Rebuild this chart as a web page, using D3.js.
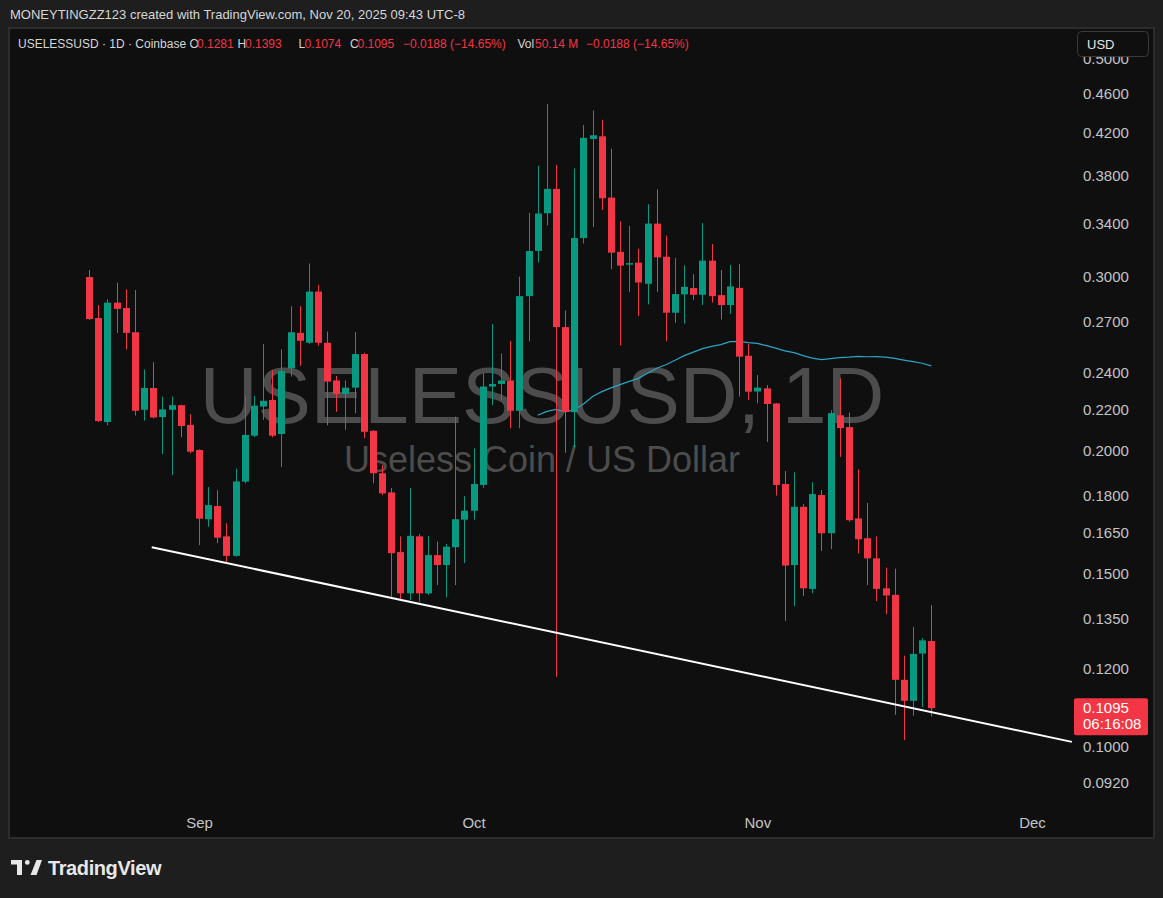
<!DOCTYPE html>
<html><head><meta charset="utf-8">
<script src="https://cdn.jsdelivr.net/npm/d3@7"></script>
<style>
html,body{margin:0;padding:0;background:#1e1e1e;}
svg{display:block;font-family:"Liberation Sans",Arial,sans-serif;}
</style></head><body>
<svg id="c" width="1163" height="898"></svg>
<script>
// ---- data ----
const dates = [
"2025-08-20","2025-08-21","2025-08-22","2025-08-23","2025-08-24","2025-08-25","2025-08-26","2025-08-27","2025-08-28","2025-08-29",
"2025-08-30","2025-08-31","2025-09-01","2025-09-02","2025-09-03","2025-09-04","2025-09-05","2025-09-06","2025-09-07","2025-09-08",
"2025-09-09","2025-09-10","2025-09-11","2025-09-12","2025-09-13","2025-09-14","2025-09-15","2025-09-16","2025-09-17","2025-09-18",
"2025-09-19","2025-09-20","2025-09-21","2025-09-22","2025-09-23","2025-09-24","2025-09-25","2025-09-26","2025-09-27","2025-09-28",
"2025-09-29","2025-09-30","2025-10-01","2025-10-02","2025-10-03","2025-10-04","2025-10-05","2025-10-06","2025-10-07","2025-10-08",
"2025-10-09","2025-10-10","2025-10-11","2025-10-12","2025-10-13","2025-10-14","2025-10-15","2025-10-16","2025-10-17","2025-10-18",
"2025-10-19","2025-10-20","2025-10-21","2025-10-22","2025-10-23","2025-10-24","2025-10-25","2025-10-26","2025-10-27","2025-10-28",
"2025-10-29","2025-10-30","2025-10-31","2025-11-01","2025-11-02","2025-11-03","2025-11-04","2025-11-05","2025-11-06","2025-11-07",
"2025-11-08","2025-11-09","2025-11-10","2025-11-11","2025-11-12","2025-11-13","2025-11-14","2025-11-15","2025-11-16","2025-11-17",
"2025-11-18","2025-11-19","2025-11-20"];
const open = [
.2999,.2725,.2137,.2825,.2790,.2636,.2199,.2314,.2162,.2199,
.2223,.2123,.2002,.1703,.1756,.1636,.1563,.1859,.2070,.2216,
.2250,.2078,.2423,.2632,.2572,.2899,.2572,.2355,.2282,.2316,
.2505,.2094,.1896,.1813,.1577,.1432,.1636,.1432,.1566,.1530,
.1595,.1701,.1737,.1845,.2322,.2336,.2355,.2194,.2868,.3188,
.3481,.3685,.2668,.2187,.3285,.4141,.4167,.3611,.3181,.3090,
.3102,.2952,.3398,.3145,.2759,.2880,.2923,.2877,.3116,.2875,
.2809,.2924,.2495,.2295,.2312,.2232,.1849,.1530,.1753,.1447,
.1802,.1648,.2171,.2112,.1706,.1629,.1554,.1449,.1427,.1170,
.1114,.1244,.1281];
const high = [
.3049,.2809,.2847,.2960,.2914,.2910,.2417,.2458,.2268,.2268,
.2225,.2177,.2005,.1836,.1823,.1687,.1917,.2268,.2272,.2564,
.2413,.2532,.2802,.2802,.3096,.2946,.2641,.2380,.2355,.2637,
.2512,.2096,.1933,.1832,.1636,.1832,.1645,.1638,.1616,.1607,
.2164,.1797,.2009,.2395,.2687,.2509,.2583,.3002,.3485,.3890,
.4492,.3897,.2774,.3866,.4280,.4428,.4331,.4049,.3416,.3380,
.3204,.3555,.3680,.3304,.3136,.3081,.3020,.3402,.3240,.3049,
.3085,.3092,.2565,.2385,.2330,.2235,.1906,.1900,.1764,.1857,
.1823,.2197,.2367,.2185,.1913,.1769,.1636,.1521,.1517,.1238,
.1324,.1290,.1393];
const low = [
.2712,.2137,.2121,.2632,.2532,.2170,.2144,.2155,.1983,.1888,
.2063,.1986,.1603,.1673,.1610,.1534,.1560,.1852,.2063,.2148,
.2062,.1924,.2376,.2437,.2565,.2554,.2121,.2189,.2098,.2181,
.2058,.1852,.1802,.1421,.1410,.1410,.1404,.1427,.1460,.1419,
.1460,.1537,.1701,.1832,.2223,.2250,.2106,.2106,.2580,.3103,
.3384,.1178,.1989,.2014,.3244,.3371,.3508,.3055,.2555,.2895,
.2737,.2813,.2898,.2581,.2695,.2690,.2843,.2809,.2825,.2716,
.2751,.2268,.2250,.2233,.2040,.1800,.1343,.1390,.1423,.1432,
.1581,.1588,.1970,.1693,.1572,.1460,.1406,.1364,.1078,.1016,
.1076,.1098,.1074];
const close = [
.2719,.2142,.2825,.2784,.2632,.2194,.2314,.2160,.2201,.2223,
.2117,.1994,.1705,.1760,.1631,.1563,.1860,.2074,.2220,.2246,
.2070,.2407,.2636,.2584,.2899,.2572,.2349,.2282,.2316,.2505,
.2089,.1896,.1809,.1573,.1432,.1638,.1432,.1566,.1530,.1597,
.1703,.1737,.1849,.2322,.2336,.2355,.2194,.2868,.3187,.3479,
.3685,.2668,.2188,.3285,.4152,.4177,.3605,.3175,.3080,.3098,
.2961,.3398,.3140,.2759,.2882,.2931,.2877,.3116,.2868,.2809,
.2934,.2490,.2294,.2316,.2229,.1845,.1528,.1753,.1449,.1806,
.1648,.2182,.2107,.1699,.1625,.1554,.1447,.1425,.1170,.1114,
.1243,.1283,.1095];
const maPeriod = 50;
const yTicks = [0.5, 0.46, 0.42, 0.38, 0.34, 0.30, 0.27, 0.24, 0.22, 0.20, 0.18, 0.165, 0.15, 0.135, 0.12, 0.10, 0.092];
const monthTicks = ["2025-09-01","2025-10-01","2025-11-01","2025-12-01"];
const trendAnchors = [["2025-08-26T20:00:00Z", 0.1595], ["2025-12-05T08:40:00Z", 0.1012]];
const lastPrice = 0.1095;
const countdown = "06:16:08";
const headerText = "MONEYTINGZZ123 created with TradingView.com, Nov 20, 2025 09:43 UTC-8";
const legendParts = [
  {t:"USELESSUSD · 1D · Coinbase", c:"lab", x:18},
  {t:"O", c:"lab", x:189.5},{t:"0.1281", c:"val", x:197},
  {t:"H", c:"lab", x:237.5},{t:"0.1393", c:"val", x:245},
  {t:"L", c:"lab", x:298.5},{t:"0.1074", c:"val", x:304.5},
  {t:"C", c:"lab", x:350},{t:"0.1095", c:"val", x:357.5},
  {t:"\u22120.0188 (\u221214.65%)", c:"val", x:403},
  {t:"Vol", c:"lab", x:517.5},{t:"50.14 M", c:"val", x:535},
  {t:"\u22120.0188 (\u221214.65%)", c:"val", x:586}
];

// ---- colors ----
const UP = "#089981", DOWN = "#f23645";

const svg = d3.select("#c");
const parse = d3.utcParse("%Y-%m-%d");
const data = dates.map((d,i)=>({date:parse(d), o:open[i], h:high[i], l:low[i], c:close[i]}));

// SMA indicator from closes
const ma = [];
for (let i = maPeriod-1; i < close.length; i++) {
  ma.push({date:data[i].date, v:d3.mean(close.slice(i-maPeriod+1, i+1))});
}

// ---- layout ----
const plot = {x0:10, x1:1073, y0:29, y1:805};
const x = d3.scaleUtc().domain([parse("2025-09-01"), parse("2025-12-01")]).range([199, 1032]);
const y = d3.scaleLog().domain([0.46, 0.10]).range([94, 747]);

// backgrounds
svg.append("rect").attr("width",1163).attr("height",898).attr("fill","#1e1e1e");
svg.append("rect").attr("x",9).attr("y",28).attr("width",1145).attr("height",810)
  .attr("fill","#0f0f0f").attr("stroke","#2c2c2c").attr("stroke-width",2);

svg.append("text").attr("x",10).attr("y",18.5).attr("fill","#d6d6d6")
  .style("font-size","13px").text(headerText);

const defs = svg.append("defs");
defs.append("clipPath").attr("id","pc").append("rect")
  .attr("x",plot.x0).attr("y",plot.y0).attr("width",plot.x1-plot.x0).attr("height",plot.y1-plot.y0);

// watermark
svg.append("text").attr("x",542).attr("y",423).attr("text-anchor","middle")
  .attr("fill","#4c4c4c").style("font-size","80px").text("USELESSUSD, 1D");
svg.append("text").attr("x",542).attr("y",472).attr("text-anchor","middle")
  .attr("fill","#4c4c4c").style("font-size","36px").text("Useless Coin / US Dollar");

const g = svg.append("g").attr("clip-path","url(#pc)");

// MA line
g.append("path").datum(ma)
  .attr("fill","none").attr("stroke","#2aa5c3").attr("stroke-width",1.2)
  .attr("d", d3.line().x(d=>x(d.date)).y(d=>y(d.v)));

// candles
const cg = g.selectAll("g.candle").data(data).join("g").attr("class","candle");
cg.append("line")
  .attr("x1",d=>Math.round(x(d.date))+0.5).attr("x2",d=>Math.round(x(d.date))+0.5)
  .attr("y1",d=>y(d.h)).attr("y2",d=>y(d.l))
  .attr("stroke",d=>d.c>=d.o?UP:DOWN).attr("stroke-width",1);
cg.append("rect")
  .attr("x",d=>Math.round(x(d.date))-3)
  .attr("y",d=>y(Math.max(d.o,d.c)))
  .attr("width",7)
  .attr("height",d=>Math.max(1.5, Math.abs(y(d.o)-y(d.c))))
  .attr("fill",d=>d.c>=d.o?UP:DOWN);

// trend line
g.append("line")
  .attr("x1",x(new Date(trendAnchors[0][0]))).attr("y1",y(trendAnchors[0][1]))
  .attr("x2",x(new Date(trendAnchors[1][0]))).attr("y2",y(trendAnchors[1][1]))
  .attr("stroke","#ffffff").attr("stroke-width",2);

// y axis
const ya = svg.append("g").attr("transform","translate(1083,0)")
  .call(d3.axisRight(y).tickValues(yTicks).tickFormat(d3.format(".4f")).tickSize(0).tickPadding(0));
ya.select(".domain").remove();
ya.selectAll("text").attr("fill","#c4c4c4").style("font-size","15px")
  .style("font-family","'Liberation Sans',Arial,sans-serif");

// x axis
const xa = svg.append("g").attr("transform","translate(0,805)")
  .call(d3.axisBottom(x).tickValues(monthTicks.map(parse)).tickFormat(d3.utcFormat("%b")).tickSize(0).tickPadding(12));
xa.select(".domain").remove();
xa.selectAll("text").attr("fill","#c4c4c4").style("font-size","15px")
  .style("font-family","'Liberation Sans',Arial,sans-serif");

// USD button
svg.append("rect").attr("x",1077.5).attr("y",31.5).attr("width",71).attr("height",25).attr("rx",4)
  .attr("fill","#0f0f0f").attr("stroke","#3a3a3a");
svg.append("text").attr("x",1087).attr("y",48.5).attr("fill","#e6e6e6")
  .style("font-size","13px").text("USD");

// last price tag
const py = y(lastPrice);
svg.append("rect").attr("x",1074).attr("y",py-10).attr("width",74).attr("height",37).attr("rx",2).attr("fill",DOWN);
svg.append("text").attr("x",1083).attr("y",py+5).attr("fill","#ffffff").style("font-size","15px").text(d3.format(".4f")(lastPrice));
svg.append("text").attr("x",1083).attr("y",py+20.5).attr("fill","#ffffff").style("font-size","15px").text(countdown);

// legend
svg.append("g").selectAll("text").data(legendParts).join("text")
  .attr("x",d=>d.x).attr("y",47.5)
  .attr("fill",d=>d.c==="val"?DOWN:"#d6d6d6")
  .style("font-size","12px").text(d=>d.t);

// TradingView logo
const lg = svg.append("g").attr("fill","#e8e8e8");
lg.append("path").attr("d","M11,860 H22 V875 H17 V864.6 H11 Z");
lg.append("circle").attr("cx",27.3).attr("cy",862.4).attr("r",2.4);
lg.append("path").attr("d","M36.5,860 H42 L36.5,875 H30.5 Z");
svg.append("text").attr("x",48).attr("y",875).attr("fill","#e8e8e8")
  .style("font-size","20px").style("font-weight","bold").style("letter-spacing","-0.4px").text("TradingView");
</script>
</body></html>
